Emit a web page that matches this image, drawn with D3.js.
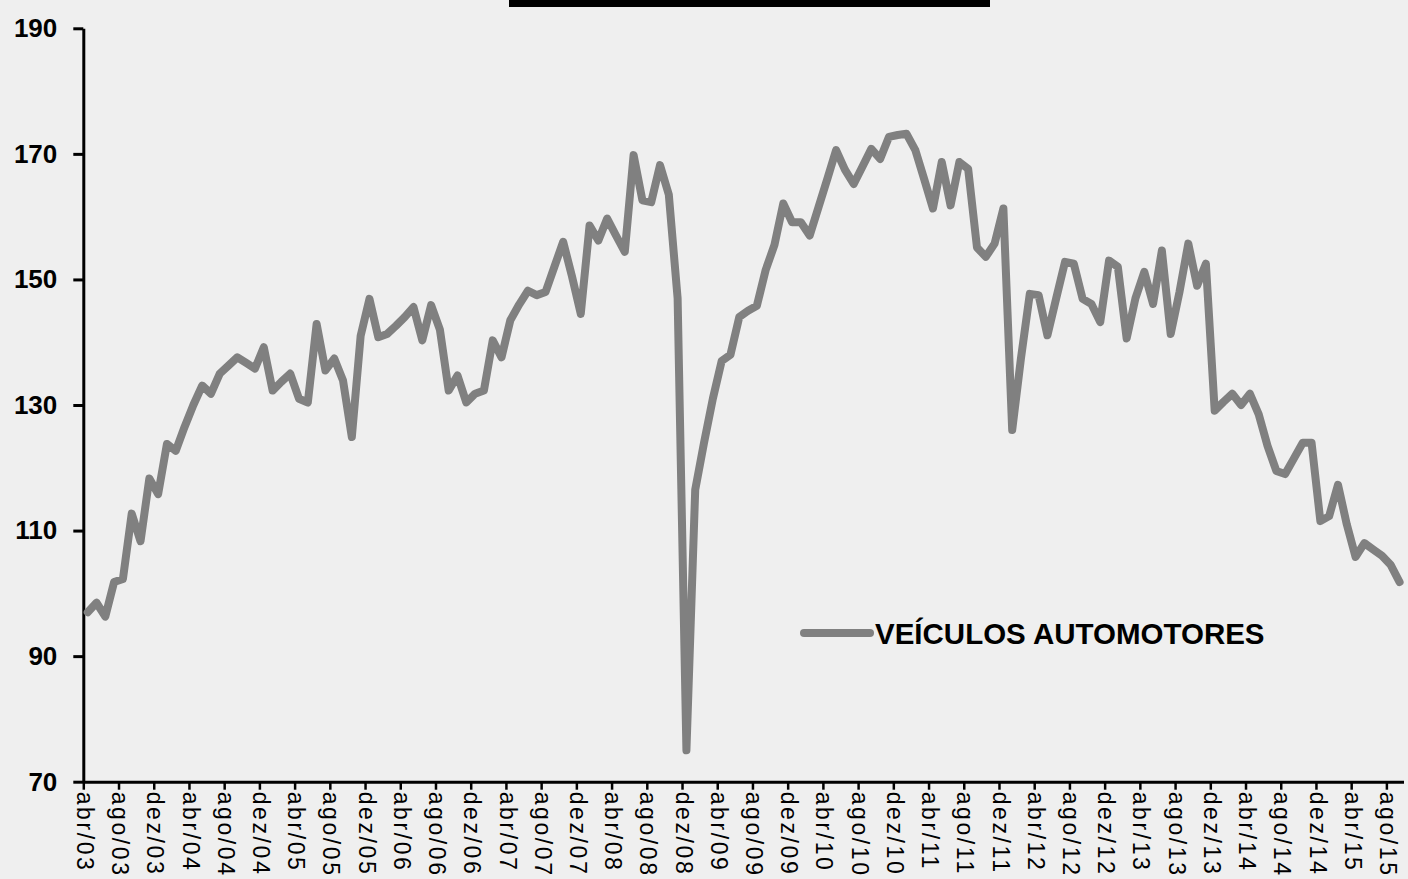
<!DOCTYPE html>
<html><head><meta charset="utf-8">
<script src="https://cdn.jsdelivr.net/npm/d3@7/dist/d3.min.js"></script>
<style>
html,body{margin:0;padding:0;background:#efefef;}
svg{display:block;}
text{font-family:"Liberation Sans",Arial,sans-serif;}
</style></head>
<body>
<svg id="chart" width="1408" height="879"></svg>
<script>
const months = [
"abr/03","mai/03","jun/03","jul/03","ago/03","set/03","out/03","nov/03","dez/03",
"jan/04","fev/04","mar/04","abr/04","mai/04","jun/04","jul/04","ago/04","set/04","out/04","nov/04","dez/04",
"jan/05","fev/05","mar/05","abr/05","mai/05","jun/05","jul/05","ago/05","set/05","out/05","nov/05","dez/05",
"jan/06","fev/06","mar/06","abr/06","mai/06","jun/06","jul/06","ago/06","set/06","out/06","nov/06","dez/06",
"jan/07","fev/07","mar/07","abr/07","mai/07","jun/07","jul/07","ago/07","set/07","out/07","nov/07","dez/07",
"jan/08","fev/08","mar/08","abr/08","mai/08","jun/08","jul/08","ago/08","set/08","out/08","nov/08","dez/08",
"jan/09","fev/09","mar/09","abr/09","mai/09","jun/09","jul/09","ago/09","set/09","out/09","nov/09","dez/09",
"jan/10","fev/10","mar/10","abr/10","mai/10","jun/10","jul/10","ago/10","set/10","out/10","nov/10","dez/10",
"jan/11","fev/11","mar/11","abr/11","mai/11","jun/11","jul/11","ago/11","set/11","out/11","nov/11","dez/11",
"jan/12","fev/12","mar/12","abr/12","mai/12","jun/12","jul/12","ago/12","set/12","out/12","nov/12","dez/12",
"jan/13","fev/13","mar/13","abr/13","mai/13","jun/13","jul/13","ago/13","set/13","out/13","nov/13","dez/13",
"jan/14","fev/14","mar/14","abr/14","mai/14","jun/14","jul/14","ago/14","set/14","out/14","nov/14","dez/14",
"jan/15","fev/15","mar/15","abr/15","mai/15","jun/15","jul/15","ago/15","set/15"
];

const values = [
97.0, 98.5, 96.3, 101.8, 102.3, 112.7, 108.3, 118.3, 115.8,
123.8, 122.7, 126.5, 130.0, 133.1, 131.8, 135.0, 136.3, 137.6, 136.7, 135.8, 139.2,
132.3, 133.7, 135.0, 131.0, 130.4, 142.9, 135.5, 137.4, 133.9, 124.9, 141.0, 146.9,
140.8, 141.3, 142.6, 144.0, 145.6, 140.3, 145.9, 142.0, 132.3, 134.7, 130.4, 131.8,
132.3, 140.3, 137.6, 143.5, 146.0, 148.2, 147.5, 148.0, 152.0, 156.0, 150.5, 144.5,
158.6, 156.2, 159.7, 157.0, 154.4, 169.8, 162.6, 162.3, 168.2, 163.5, 147.0, 75.0,
116.5, 124.0, 131.0, 137.0, 138.0, 144.0, 145.0, 145.8, 151.5, 155.5, 162.1, 159.1,
159.1, 157.0, 161.5, 166.0, 170.6, 167.5, 165.2, 168.0, 170.8, 169.2, 172.7, 173.0,
173.2, 170.6, 166.0, 161.3, 168.7, 161.8, 168.7, 167.6, 155.1, 153.6, 155.7, 161.3,
126.0, 137.5, 147.7, 147.5, 141.1, 147.0, 152.8, 152.5, 146.9, 146.1, 143.2, 153.0,
152.0, 140.6, 147.0, 151.2, 146.1, 154.6, 141.3, 148.0, 155.7, 149.0, 152.5, 129.1,
130.5, 131.8, 130.0, 131.8, 128.5, 123.5, 119.5, 119.0, 121.5, 124.0, 124.0, 111.5,
112.3, 117.3, 111.0, 105.8, 108.0, 107.0, 106.0, 104.5, 101.8
];

const tickLabels = [
"abr/03","ago/03","dez/03","abr/04","ago/04","dez/04","abr/05","ago/05","dez/05",
"abr/06","ago/06","dez/06","abr/07","ago/07","dez/07","abr/08","ago/08","dez/08",
"abr/09","ago/09","dez/09","abr/10","ago/10","dez/10","abr/11","ago/11","dez/11",
"abr/12","ago/12","dez/12","abr/13","ago/13","dez/13","abr/14","ago/14","dez/14",
"abr/15","ago/15"
];
const yTicks = [70, 90, 110, 130, 150, 170, 190];
const seriesName = "VEÍCULOS AUTOMOTORES";
const lineColor = "#808080";

(function () {
const svg = d3.select("#chart");
const plotL = 83.3, plotR = 1404, plotT = 28.3, plotB = 781.7;

svg.append("rect").attr("width", 1408).attr("height", 879).attr("fill", "#efefef");
svg.append("rect").attr("x", 509).attr("y", 0).attr("width", 481).attr("height", 7).attr("fill", "#000");

const x = d3.scaleBand().domain(months).range([plotL, plotR]).padding(0);
const xTick = d3.scalePoint().domain(months).range([plotL, plotR - x.step()]);
const y = d3.scaleLinear().domain([70, 190]).range([plotB, plotT]);

const gy = svg.append("g").attr("transform", `translate(${plotL},0)`)
  .call(d3.axisLeft(y).tickValues(yTicks).tickSize(10).tickSizeOuter(0).tickPadding(16));
gy.select(".domain").attr("stroke", "#000").attr("stroke-width", 3);
gy.selectAll(".tick line").attr("stroke", "#000").attr("stroke-width", 3);
gy.selectAll(".tick text").attr("fill", "#000")
  .style("font-size", "26px").style("font-weight", "bold")
  .style("font-family", '"Liberation Sans", Arial, sans-serif');

const gx = svg.append("g").attr("transform", `translate(0,${plotB})`)
  .call(d3.axisBottom(xTick).tickValues(tickLabels).tickSize(8).tickSizeOuter(0));
gx.select(".domain").attr("stroke", "#000").attr("stroke-width", 3)
  .attr("d", `M${plotL},0.5H${plotR}`);
gx.selectAll(".tick line").attr("stroke", "#000").attr("stroke-width", 2.5);
gx.selectAll(".tick text").attr("fill", "#000")
  .attr("transform", "rotate(90)").attr("x", 10).attr("y", 0).attr("dy", "0.3em")
  .style("text-anchor", "start")
  .style("font-size", "23px").style("letter-spacing", "2.6px")
  .style("font-family", '"Liberation Sans", Arial, sans-serif');

const line = d3.line()
  .x((d, i) => x(months[i]) + x.bandwidth() / 2)
  .y(d => y(d));
svg.append("path").datum(values)
  .attr("fill", "none").attr("stroke", lineColor).attr("stroke-width", 8)
  .attr("stroke-linejoin", "round").attr("stroke-linecap", "round")
  .attr("d", line);

const lg = svg.append("g").attr("transform", "translate(804,633)");
lg.append("line").attr("x1", 0).attr("x2", 66).attr("y1", 0).attr("y2", 0)
  .attr("stroke", lineColor).attr("stroke-width", 8).attr("stroke-linecap", "round");
lg.append("text").attr("x", 71).attr("y", 0).attr("dy", "0.36em")
  .style("font-size", "29.5px").style("font-weight", "bold").attr("fill", "#000")
  .text(seriesName);
})();
</script>
</body></html>
